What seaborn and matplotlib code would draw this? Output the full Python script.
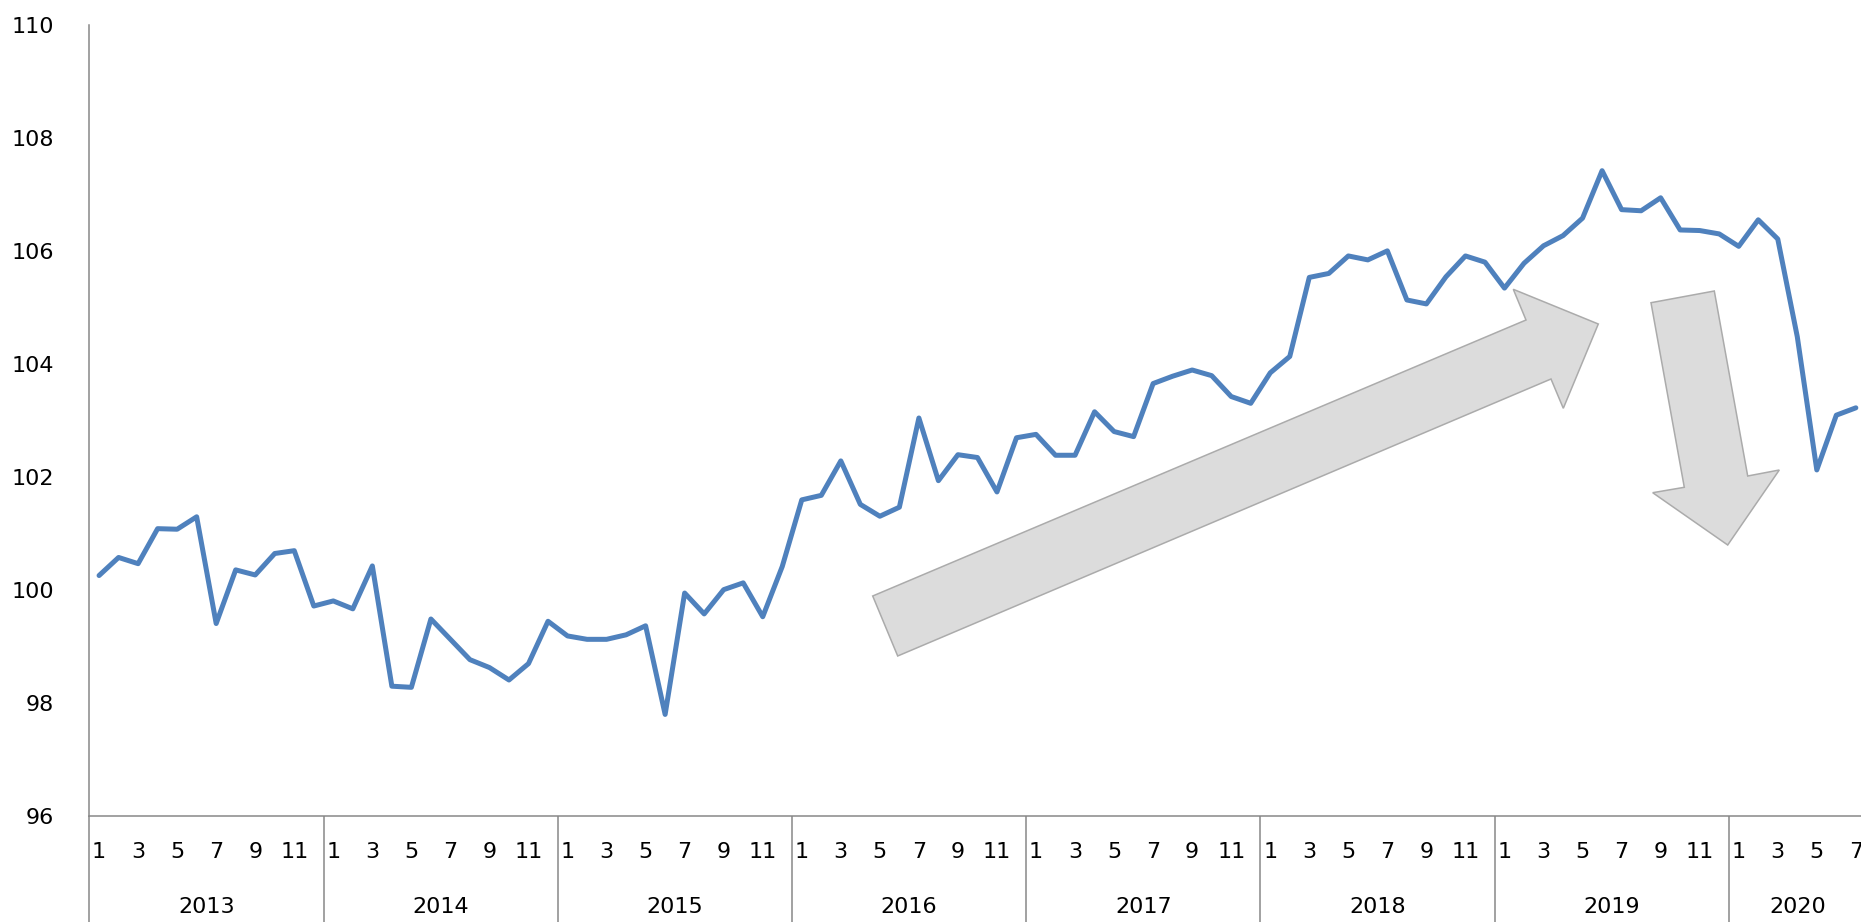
import numpy as np
import pandas as pd
import matplotlib
matplotlib.use("Agg")
import matplotlib.pyplot as plt
from matplotlib.patches import Polygon
import seaborn as sns

# Monthly index values, Jan 2013 .. Jul 2020
years = [2013, 2014, 2015, 2016, 2017, 2018, 2019, 2020]
v2013 = [100.25, 100.57, 100.46, 101.08, 101.07, 101.29, 99.40, 100.35, 100.26, 100.64, 100.69, 99.71]
v2014 = [99.80, 99.66, 100.42, 98.29, 98.27, 99.48, 99.12, 98.76, 98.62, 98.40, 98.69, 99.44]
v2015 = [99.18, 99.12, 99.12, 99.20, 99.36, 97.79, 99.94, 99.57, 100.00, 100.12, 99.52, 100.41]
v2016 = [101.59, 101.67, 102.28, 101.51, 101.30, 101.46, 103.04, 101.93, 102.39, 102.34, 101.73, 102.69]
v2017 = [102.75, 102.38, 102.38, 103.15, 102.80, 102.71, 103.65, 103.78, 103.89, 103.79, 103.42, 103.30]
v2018 = [103.84, 104.13, 105.53, 105.60, 105.91, 105.84, 106.00, 105.13, 105.06, 105.54, 105.91, 105.80]
v2019 = [105.34, 105.78, 106.09, 106.27, 106.58, 107.42, 106.73, 106.71, 106.94, 106.37, 106.36, 106.30]
v2020 = [106.08, 106.55, 106.21, 104.48, 102.12, 103.09, 103.22]
series_by_year = [v2013, v2014, v2015, v2016, v2017, v2018, v2019, v2020]

y_ticks = [96, 98, 100, 102, 104, 106, 108, 110]
month_labels = [1, 3, 5, 7, 9, 11]

rows = []
for yr, vals in zip(years, series_by_year):
    for m, v in enumerate(vals, start=1):
        rows.append({"year": yr, "month": m, "value": v})
df = pd.DataFrame(rows)
df["idx"] = np.arange(len(df))

sns.set_style("white")
plt.rcParams["font.family"] = ["DejaVu Sans"]

W, H = 1861, 922
fig = plt.figure(figsize=(W / 100, H / 100), dpi=100)
ax_left, ax_right = 89.3, 1865.6
ax_top, ax_bottom = 25.0, 815.5
ax = fig.add_axes([ax_left / W, 1 - ax_bottom / H,
                   (ax_right - ax_left) / W, (ax_bottom - ax_top) / H])

line_col = "#4F81BD"
axis_col = "#878787"
fs = 16

sns.lineplot(data=df, x="idx", y="value", ax=ax, color=line_col,
             linewidth=3.6, zorder=3)

ax.set_xlim(-0.5, len(df) - 0.5)
ax.set_ylim(96, 110)
ax.set_yticks(y_ticks)
ax.set_yticklabels([str(t) for t in y_ticks], fontsize=fs, color="black")
ax.tick_params(axis="y", direction="out", length=5.5, width=1.1,
               color=axis_col, pad=20)
ax.set_xticks([])
ax.set_xlabel("")
ax.set_ylabel("")

for side in ("top", "right"):
    ax.spines[side].set_visible(False)
for side in ("left", "bottom"):
    ax.spines[side].set_color(axis_col)
    ax.spines[side].set_linewidth(1.1)

# category axis: month numbers and year groups below the plot
axis_h = ax_bottom - ax_top
month_base = -(858.3 - ax_bottom) / axis_h
year_base = -(913.3 - ax_bottom) / axis_h
xtrans = ax.get_xaxis_transform()
for _, r in df.iterrows():
    if r["month"] in month_labels:
        ax.text(r["idx"], month_base, str(int(r["month"])), transform=xtrans,
                ha="center", va="baseline", fontsize=fs, color="black",
                clip_on=False)
for yr in years:
    sub = df[df["year"] == yr]
    start = sub["idx"].min() - 0.5
    ax.text(start + len(sub) / 2, year_base, str(yr), transform=xtrans,
            ha="center", va="baseline", fontsize=fs, color="black",
            clip_on=False)
    ax.vlines(start, -0.3, 0, transform=xtrans, colors=axis_col,
              linewidth=1.1, clip_on=False)

# trend arrows
def to_fig(points):
    return [(x / W, 1 - y / H) for x, y in points]

arrow_up = [(872.7, 596.0), (1526.0, 320.0), (1513.3, 289.3), (1598.3, 324.0),
            (1563.3, 408.3), (1551.0, 379.0), (897.7, 656.0)]
arrow_down = [(1651.0, 302.7), (1714.3, 291.0), (1747.7, 476.0), (1779.3, 470.0),
              (1727.7, 545.0), (1652.7, 492.7), (1684.3, 487.3)]
for shape in (arrow_up, arrow_down):
    ax.add_patch(Polygon(to_fig(shape), closed=True, transform=fig.transFigure,
                         facecolor="#DCDCDC", edgecolor="#ABABAB",
                         linewidth=1.1, zorder=2, clip_on=False))

fig.savefig("out.png", dpi=100, facecolor="white")
